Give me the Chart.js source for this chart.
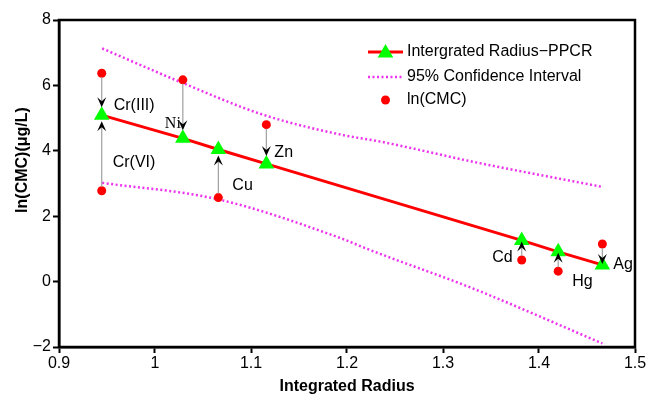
<!DOCTYPE html>
<html>
<head>
<meta charset="utf-8">
<script src="https://cdn.jsdelivr.net/npm/chart.js@4"></script>
<style>
  html, body { margin: 0; padding: 0; background: #fff; }
</style>
</head>
<body>
<canvas id="chart" width="648" height="399"></canvas>
<script>
// Measured ln(CMC) for each metal ion
var metals = ["Cr(III)", "Cr(VI)", "Ni", "Cu", "Zn", "Cd", "Hg", "Ag"];
var radius = [0.9445, 0.9445, 1.029, 1.066, 1.116, 1.382, 1.420, 1.466];
var lnCMC = [6.37, 2.78, 6.17, 2.57, 4.80, 0.66, 0.32, 1.15];

// PPCR predicted values (Cr(III) and Cr(VI) share one point)
var fitRadius = [0.9445, 1.029, 1.066, 1.116, 1.382, 1.420, 1.466];
var fitLnCMC = [5.09, 4.38, 4.04, 3.60, 1.26, 0.91, 0.51];
var fitIndex = [0, 0, 1, 2, 3, 4, 5, 6];

// 95% confidence band
var upperX = [0.945, 1.03, 1.113, 1.196, 1.235, 1.332, 1.467];
var upperY = [7.13, 6.06, 5.10, 4.48, 4.28, 3.66, 2.89];
var lowerX = [0.945, 1.065, 1.196, 1.221, 1.332, 1.466];
var lowerY = [3.02, 2.52, 1.30, 1.00, -0.22, -1.89];

var xTicks = [0.9, 1, 1.1, 1.2, 1.3, 1.4, 1.5];
var yTicks = [-2, 0, 2, 4, 6, 8];

var FONT = "'Liberation Sans', Arial, sans-serif";

function pts(xs, ys) {
    return xs.map(function (x, i) { return {x: x, y: ys[i]}; });
}

function triangle(ctx, x, y, r) {
    ctx.beginPath();
    ctx.moveTo(x, y - r);
    ctx.lineTo(x + 0.866 * r, y + 0.5 * r);
    ctx.lineTo(x - 0.866 * r, y + 0.5 * r);
    ctx.closePath();
    ctx.fill();
}

// label placement relative to the fitted triangle
var labelPos = [
    {dx: 12, dy: -10, align: 'left'},
    {dx: 11, dy: 47, align: 'left'},
    {dx: -2, dy: -15, align: 'right', serif: true},
    {dx: 14, dy: 36, align: 'left'},
    {dx: 8, dy: -11, align: 'left'},
    {dx: -9, dy: 17, align: 'right'},
    {dx: 14, dy: 30, align: 'left'},
    {dx: 11, dy: 0, align: 'left'}
];

var annotate = {
    id: 'annotate',
    afterDatasetsDraw: function (chart) {
        var ctx = chart.ctx, xs = chart.scales.x, ys = chart.scales.y, a = chart.chartArea;
        ctx.save();

        // arrows from measured point to predicted point
        for (var i = 0; i < metals.length; i++) {
            var x = xs.getPixelForValue(radius[i]);
            var y0 = ys.getPixelForValue(lnCMC[i]);
            var y1 = ys.getPixelForValue(fitLnCMC[fitIndex[i]]);
            var down = y0 < y1;
            var s = down ? 1 : -1;
            var tip;
            if (Math.abs(y1 - y0) < 30) tip = y1 - s * 1;
            else tip = down ? y1 - 8 : y1 + 6;
            ctx.strokeStyle = '#a0a0a0';
            ctx.lineWidth = 1.2;
            ctx.beginPath();
            ctx.moveTo(x, y0 + s * 4);
            ctx.lineTo(x, tip - s * 6);
            ctx.stroke();
            ctx.fillStyle = '#000';
            ctx.beginPath();
            ctx.moveTo(x, tip);
            ctx.lineTo(x - 4.5, tip - s * 10);
            ctx.lineTo(x, tip - s * 6);
            ctx.lineTo(x + 4.5, tip - s * 10);
            ctx.closePath();
            ctx.fill();

            var p = labelPos[i];
            ctx.font = p.serif ? "16px 'Liberation Serif', 'Times New Roman', serif" : '16px ' + FONT;
            ctx.textAlign = p.align;
            ctx.textBaseline = 'middle';
            ctx.fillText(metals[i], x + p.dx, y1 + p.dy);
        }

        // frame on top and right
        ctx.strokeStyle = '#000';
        ctx.lineWidth = 2.5;
        ctx.strokeRect(a.left, a.top, a.right - a.left, a.bottom - a.top);

        // legend
        var ds = chart.data.datasets;
        var lx = 368, lw = 35, tx = 407;
        ctx.font = '16px ' + FONT;
        ctx.textAlign = 'left';
        ctx.textBaseline = 'middle';
        ctx.fillStyle = '#000';

        var rows = [52, 77, 100];
        // fit line
        ctx.strokeStyle = ds[0].borderColor;
        ctx.lineWidth = 3;
        ctx.beginPath(); ctx.moveTo(lx, rows[0]); ctx.lineTo(lx + lw, rows[0]); ctx.stroke();
        ctx.fillStyle = ds[0].pointBackgroundColor;
        triangle(ctx, lx + lw / 2, rows[0] + 1, 9);
        // band
        ctx.strokeStyle = ds[2].borderColor;
        ctx.lineWidth = ds[2].borderWidth;
        ctx.setLineDash(ds[2].borderDash);
        ctx.beginPath(); ctx.moveTo(lx, rows[1]); ctx.lineTo(lx + lw, rows[1]); ctx.stroke();
        ctx.setLineDash([]);
        // points
        ctx.fillStyle = ds[1].pointBackgroundColor;
        ctx.beginPath(); ctx.arc(lx + lw / 2, rows[2], 4.5, 0, Math.PI * 2); ctx.fill();

        ctx.fillStyle = '#000';
        ctx.fillText(ds[0].label, tx, rows[0]);
        ctx.fillText(ds[2].label, tx, rows[1]);
        ctx.fillText(ds[1].label, tx, rows[2]);

        // y axis title
        ctx.save();
        ctx.translate(23, 160);
        ctx.rotate(-Math.PI / 2);
        ctx.font = 'bold 16px ' + FONT;
        ctx.textAlign = 'center';
        ctx.fillText('ln(CMC)(\u03bcg/L)', 0, 0);
        ctx.restore();

        ctx.restore();
    }
};

var axisFont = {family: FONT, size: 16};

new Chart(document.getElementById('chart').getContext('2d'), {
    type: 'scatter',
    data: {
        datasets: [
            {
                label: 'Intergrated Radius\u2212PPCR',
                data: pts(fitRadius, fitLnCMC),
                showLine: true,
                borderColor: '#ff0000',
                borderWidth: 3,
                pointStyle: 'triangle',
                pointRadius: 9,
                pointBackgroundColor: '#00ff00',
                pointBorderColor: '#00ff00',
                pointBorderWidth: 0
            },
            {
                label: 'ln(CMC)',
                data: pts(radius, lnCMC),
                showLine: false,
                pointStyle: 'circle',
                pointRadius: 4.5,
                pointBackgroundColor: '#ff0000',
                pointBorderColor: '#ff0000',
                pointBorderWidth: 0
            },
            {
                label: '95% Confidence Interval',
                data: pts(upperX, upperY),
                showLine: true,
                borderColor: '#ee33ee',
                borderWidth: 2.5,
                borderDash: [2, 2.5],
                pointRadius: 0,
                cubicInterpolationMode: 'monotone'
            },
            {
                label: '95% Confidence Interval',
                data: pts(lowerX, lowerY),
                showLine: true,
                borderColor: '#ee33ee',
                borderWidth: 2.5,
                borderDash: [2, 2.5],
                pointRadius: 0,
                cubicInterpolationMode: 'monotone'
            }
        ]
    },
    options: {
        responsive: false,
        animation: false,
        events: [],
        layout: {padding: {left: 0, right: 13, top: 20, bottom: 0}},
        plugins: {
            legend: {display: false},
            tooltip: {enabled: false}
        },
        scales: {
            x: {
                type: 'linear',
                min: 0.9,
                max: 1.5,
                afterBuildTicks: function (s) { s.ticks = xTicks.map(function (v) { return {value: v}; }); },
                afterFit: function (s) { s.height = 52; },
                grid: {drawOnChartArea: false, drawTicks: true, tickLength: 6, tickWidth: 2, color: '#000', tickColor: '#000'},
                border: {display: true, color: '#000', width: 2.5},
                ticks: {color: '#000', font: axisFont, padding: 1, maxRotation: 0, callback: function (v) { return String(v); }},
                title: {display: true, text: 'Integrated Radius', color: '#000',
                        font: {family: FONT, size: 16, weight: 'bold'}, padding: {top: 0, bottom: 3}}
            },
            y: {
                type: 'linear',
                min: -2,
                max: 8,
                afterBuildTicks: function (s) { s.ticks = yTicks.map(function (v) { return {value: v}; }); },
                afterFit: function (s) { s.width = 59; },
                grid: {drawOnChartArea: false, drawTicks: true, tickLength: 6, tickWidth: 2, color: '#000', tickColor: '#000'},
                border: {display: true, color: '#000', width: 2.5},
                ticks: {color: '#000', font: axisFont, padding: 2,
                        callback: function (v) { return v < 0 ? '\u2212' + Math.abs(v) : String(v); }}
            }
        }
    },
    plugins: [annotate]
});
</script>
</body>
</html>
